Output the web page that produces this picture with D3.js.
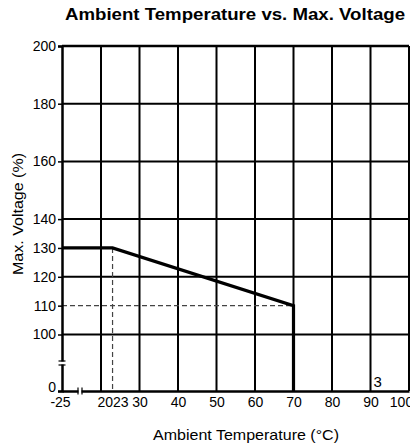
<!DOCTYPE html>
<html>
<head>
<meta charset="utf-8">
<script src="https://cdn.jsdelivr.net/npm/d3@7/dist/d3.min.js"></script>
<style>
  html, body { margin: 0; padding: 0; background: #fff; }
  svg { display: block; font-family: "Liberation Sans", Arial, Helvetica, sans-serif; }
</style>
</head>
<body>
<svg id="chart" width="410" height="445"></svg>
<script>
// ---- data ----
const curveTemps = [-25, 23, 70, 70];
const curveVolts = [130, 130, 110, 0];
const xTickValues = [-25, 20, 23, 30, 40, 50, 60, 70, 80, 90, 100];
const xGridValues = [20, 30, 40, 50, 60, 70, 80, 90];
const yTickValues = [0, 100, 110, 120, 130, 140, 160, 180, 200];
const yGridValues = [100, 120, 140, 160, 180];
const dashTemp = 23;      // vertical dashed reference
const dashVolt = 110;     // horizontal dashed reference
const titleText = "Ambient Temperature vs. Max. Voltage";
const xLabelText = "Ambient Temperature (\u00B0C)";
const yLabelText = "Max. Voltage (%)";
const noteText = "3";

// ---- scales (broken axes: piecewise linear) ----
const x = d3.scaleLinear().domain([-25, 20, 100]).range([62, 101, 409]);
const y = d3.scaleLinear().domain([0, 100, 200]).range([391, 334.5, 46]);

const svg = d3.select("#chart");

// grid lines
svg.append("g").selectAll("line").data(xGridValues).join("line")
  .attr("x1", d => x(d)).attr("x2", d => x(d))
  .attr("y1", y(0)).attr("y2", y(200))
  .attr("stroke", "#000").attr("stroke-width", 2);
svg.append("g").selectAll("line").data(yGridValues).join("line")
  .attr("x1", x(-25)).attr("x2", x(100))
  .attr("y1", d => y(d)).attr("y2", d => y(d))
  .attr("stroke", "#000").attr("stroke-width", 2);

// dashed reference lines
svg.append("line")
  .attr("x1", x(dashTemp)).attr("x2", x(dashTemp))
  .attr("y1", y(130)).attr("y2", y(0))
  .attr("stroke", "#444").attr("stroke-width", 1.2).attr("stroke-dasharray", "5,3");
svg.append("line")
  .attr("x1", x(-25)).attr("x2", x(70))
  .attr("y1", y(dashVolt)).attr("y2", y(dashVolt))
  .attr("stroke", "#444").attr("stroke-width", 1.2).attr("stroke-dasharray", "5,3");

// frame: top and right
svg.append("line").attr("x1", x(-25)).attr("x2", x(100)).attr("y1", y(200)).attr("y2", y(200))
  .attr("stroke", "#000").attr("stroke-width", 2.5);
svg.append("line").attr("x1", x(100)).attr("x2", x(100)).attr("y1", y(200)).attr("y2", y(0))
  .attr("stroke", "#000").attr("stroke-width", 2);

// axes
const fmt = d => String(d);
const xAxis = d3.axisBottom(x).tickValues(xTickValues).tickSize(0).tickPadding(6)
  .tickFormat(fmt);
const gx = svg.append("g").attr("transform", `translate(0,${y(0)})`).call(xAxis);
gx.select(".domain").attr("stroke", "#000").attr("stroke-width", 2.5);
gx.selectAll("text").attr("font-size", 14).attr("fill", "#000")
  .attr("font-family", "Liberation Sans, Arial, sans-serif");
gx.selectAll(".tick").filter(d => d === 20).select("text")
  .attr("text-anchor", "end").attr("x", x(23) - x(20));
gx.selectAll(".tick").filter(d => d === 23).select("text")
  .attr("text-anchor", "start").attr("x", 0);
gx.selectAll(".tick").filter(d => d === 100).select("text").attr("dx", -8);
gx.selectAll(".tick").filter(d => d === -25).select("text").attr("dx", -2);

const yAxis = d3.axisLeft(y).tickValues(yTickValues).tickSize(4).tickPadding(2)
  .tickFormat(fmt);
const gy = svg.append("g").attr("transform", `translate(${x(-25)},0)`).call(yAxis);
gy.select(".domain").attr("stroke", "#000").attr("stroke-width", 2.5);
gy.selectAll(".tick line").attr("stroke", "#000").attr("stroke-width", 1.5);
gy.selectAll("text").attr("font-size", 14).attr("fill", "#000")
  .attr("font-family", "Liberation Sans, Arial, sans-serif");
gy.selectAll(".tick").filter(d => d === 0).select("text").attr("dy", "0.05em");

// axis break marks
const yb = y(0) - 28;
svg.append("rect").attr("x", x(-25) - 2).attr("y", yb - 1.5).attr("width", 4).attr("height", 3).attr("fill", "#fff");
[-2, 2].forEach(o => svg.append("line")
  .attr("x1", x(-25) - 3.5).attr("x2", x(-25) + 3.5)
  .attr("y1", yb + o).attr("y2", yb + o)
  .attr("stroke", "#000").attr("stroke-width", 1.2));
const xb = x(-25) + 18;
svg.append("rect").attr("x", xb - 1.5).attr("y", y(0) - 2).attr("width", 3).attr("height", 4).attr("fill", "#fff");
[-2, 2].forEach(o => svg.append("line")
  .attr("x1", xb + o).attr("x2", xb + o)
  .attr("y1", y(0) - 3.5).attr("y2", y(0) + 3.5)
  .attr("stroke", "#000").attr("stroke-width", 1.2));

// curve
const line = d3.line().x(d => x(d[0])).y(d => y(d[1]));
svg.append("path")
  .datum(curveTemps.map((t, i) => [t, curveVolts[i]]))
  .attr("d", line)
  .attr("fill", "none").attr("stroke", "#000").attr("stroke-width", 3.2)
  .attr("stroke-linejoin", "miter");

// note
svg.append("text").attr("x", x(90) + 3).attr("y", y(0) - 4)
  .attr("font-size", 15).text(noteText);

// title & labels
svg.append("text").attr("x", 235).attr("y", 20).attr("text-anchor", "middle")
  .attr("font-size", 16).attr("font-weight", "bold")
  .attr("textLength", 340).attr("lengthAdjust", "spacingAndGlyphs")
  .text(titleText);
svg.append("text").attr("x", 246).attr("y", 440).attr("text-anchor", "middle")
  .attr("font-size", 15)
  .attr("textLength", 186).attr("lengthAdjust", "spacingAndGlyphs")
  .text(xLabelText);
svg.append("text").attr("transform", "translate(23,214) rotate(-90)")
  .attr("text-anchor", "middle").attr("font-size", 15)
  .attr("textLength", 122).attr("lengthAdjust", "spacingAndGlyphs")
  .text(yLabelText);
</script>
</body>
</html>
